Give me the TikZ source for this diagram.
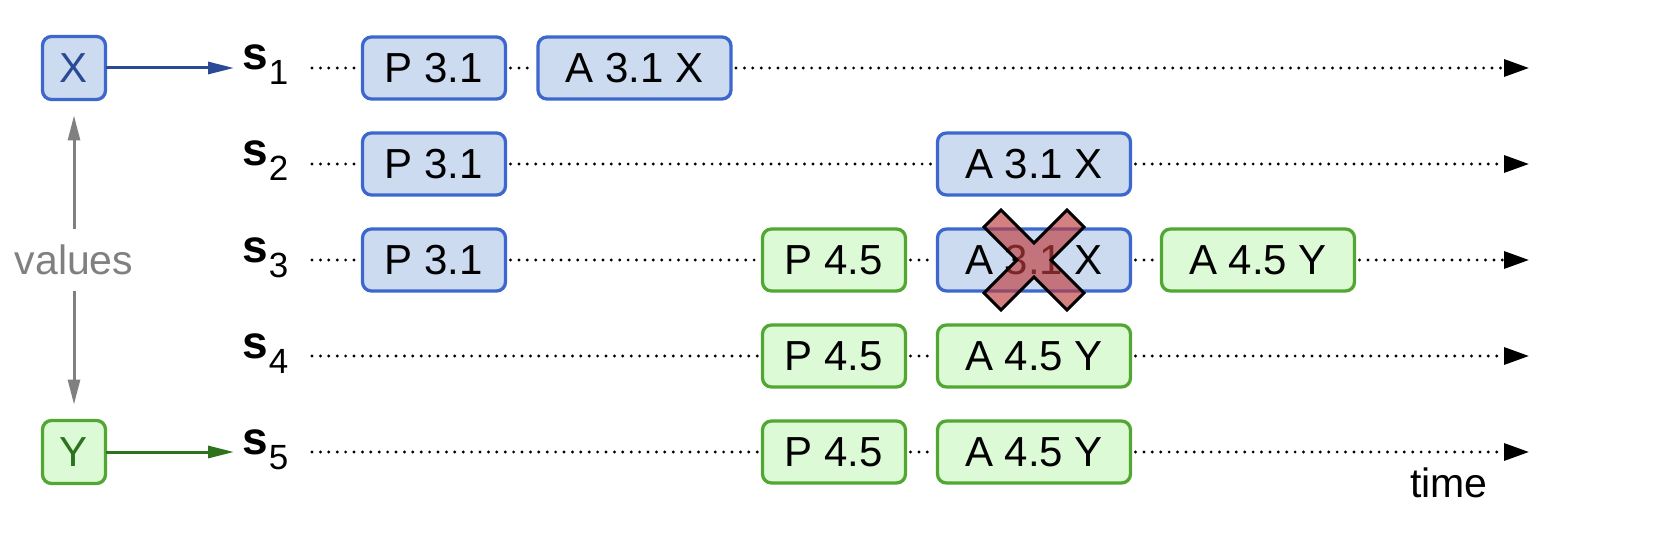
\documentclass[tikz,border=0pt]{standalone}
\usepackage{fontspec}
\setmainfont{Liberation Sans}
\usetikzlibrary{arrows.meta}

\definecolor{bluedraw}{RGB}{61,103,204}
\definecolor{bluefill}{RGB}{205,219,241}
\definecolor{bluedark}{RGB}{42,74,150}
\definecolor{greendraw}{RGB}{82,166,50}
\definecolor{greenfill}{RGB}{220,250,214}
\definecolor{greendark}{RGB}{45,115,30}
\definecolor{crossred}{RGB}{190,60,60}

\tikzset{
	box/.style={draw, line width=3.3pt, rounded corners=9pt, minimum height=62pt,
		inner sep=0pt, outer sep=5pt, font=\fontsize{42}{42}\selectfont},
	bluebox/.style={box, draw=bluedraw, fill=bluefill},
	greenbox/.style={box, draw=greendraw, fill=greenfill},
	pbox/.style={minimum width=143pt},
	abox/.style={minimum width=193pt},
	vbox/.style={minimum width=63pt, minimum height=63pt, outer sep=0pt},
	slabel/.style={anchor=base west, inner sep=0pt, font=\fontsize{46}{46}\selectfont\bfseries},
	timeline/.style={line width=3.2pt, line cap=round, dash pattern=on 0pt off 8.4pt},
	timeend/.style={timeline, -{Triangle[length=25pt, width=17pt]}},
	valarrow/.style={line width=3pt, -{Triangle[length=26pt, width=12pt]}, shorten >=8pt},
}
\newcommand{\sname}[1]{s\hspace{1pt}\raisebox{-15pt}{\fontsize{35}{35}\selectfont\mdseries #1}}

\begin{document}
\begin{tikzpicture}[x=1pt, y=-1pt]
	\useasboundingbox (0,0) rectangle (1668,556);

	% value boxes
	\node[bluebox, vbox, text=bluedark] (X) at (74,68) {X};
	\node[greenbox, vbox, text=greendark] (Y) at (74,452) {Y};

	% servers and time lines
	\foreach \i\y in {1/68,2/164,3/260,4/356,5/452}{
		\node[slabel] (s\i) at (242,\y+2) {\sname{\i}};
		\coordinate (t\i) at (312,\y);
		\coordinate (e\i) at (1529,\y);
	}

	\draw[valarrow, bluedark] (X) -- (X -| s1.west);
	\draw[valarrow, greendark] (Y) -- (Y -| s5.west);
	\draw[gray, line width=3pt, {Triangle[length=25pt, width=12pt]}-{Triangle[length=25pt, width=12pt]},
		shorten <=16pt, shorten >=16pt] (X) -- (Y)
		node[midway, fill=white, inner sep=16pt, text=gray, font=\fontsize{41}{41}\selectfont] (values) {values};

	% messages
	\node[bluebox, pbox] (p1) at (434,68) {P 3.1};
	\node[bluebox, abox] (a1) at (634.5,68) {A 3.1 X};

	\node[bluebox, pbox] (p2) at (434,164) {P 3.1};
	\node[bluebox, abox] (a2) at (1034,164) {A 3.1 X};

	\node[bluebox, pbox] (p3) at (434,260) {P 3.1};
	\node[greenbox, pbox] (q3) at (834,260) {P 4.5};
	\node[bluebox, abox] (a3) at (1034,260) {A 3.1 X};
	\node[greenbox, abox] (b3) at (1258,260) {A 4.5 Y};

	\node[greenbox, pbox] (q4) at (834,356) {P 4.5};
	\node[greenbox, abox] (b4) at (1034,356) {A 4.5 Y};

	\node[greenbox, pbox] (q5) at (834,452) {P 4.5};
	\node[greenbox, abox] (b5) at (1034,452) {A 4.5 Y};

	\draw[timeline] (t1) -- (p1) (p1) -- (a1);
	\draw[timeend] (a1) -- (e1);
	\draw[timeline] (t2) -- (p2) (p2) -- (a2);
	\draw[timeend] (a2) -- (e2);
	\draw[timeline] (t3) -- (p3) (p3) -- (q3) (q3) -- (a3) (a3) -- (b3);
	\draw[timeend] (b3) -- (e3);
	\draw[timeline] (t4) -- (q4);
	\draw[timeend] (q4) -- (b4) (b4) -- (e4);
	\draw[timeline] (t5) -- (q5) (q5) -- (b5);
	\draw[timeend] (b5) -- (e5);

	\node[anchor=base, font=\fontsize{41}{41}\selectfont] (time) at (1449,497) {time};

	% rejected accept
	\filldraw[shift={(a3.center)}, line width=3pt, line join=miter, draw=black,
		fill=crossred, fill opacity=0.65]
		(0,17) -- (33,50) -- (50,33) -- (17,0) -- (50,-33) -- (33,-50) -- (0,-17)
		-- (-33,-50) -- (-50,-33) -- (-17,0) -- (-50,33) -- (-33,50) -- cycle;
\end{tikzpicture}
\end{document}
